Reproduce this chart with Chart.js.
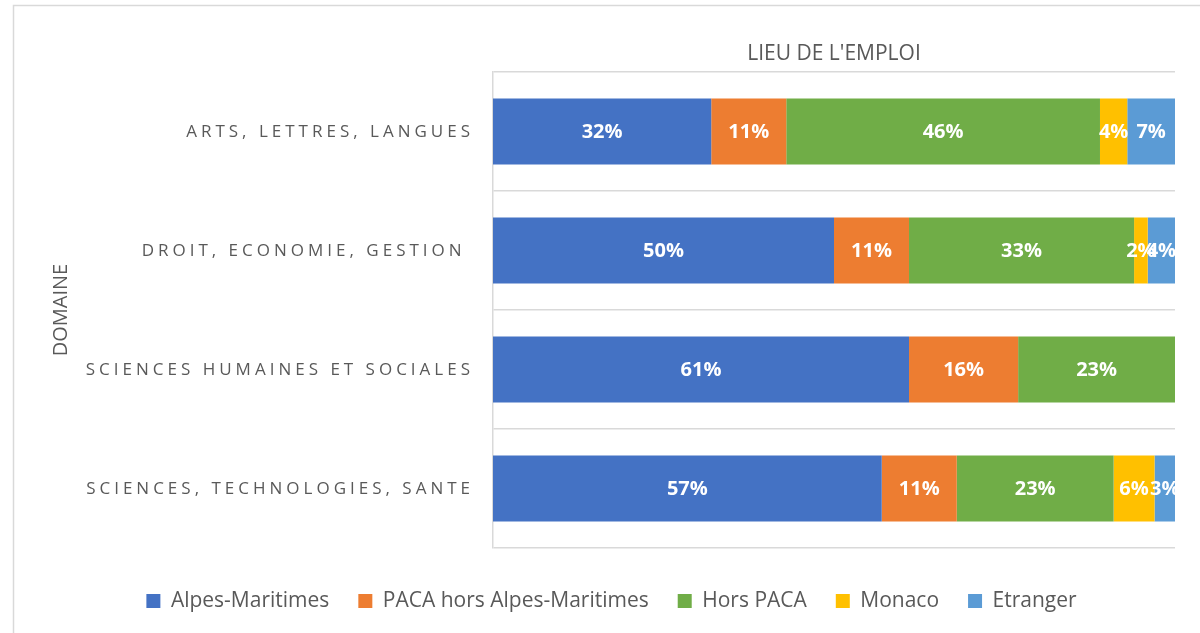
<!DOCTYPE html>
<html>
<head>
<meta charset="utf-8">
<script src="https://cdn.jsdelivr.net/npm/chart.js@4.4.0/dist/chart.umd.min.js"></script>
<style>
  html, body { margin: 0; padding: 0; background: #fff; }
  #wrap { width: 1200px; height: 633px; }
</style>
</head>
<body>
<div id="wrap"><canvas id="chart"></canvas></div>
<script>
const domaines = ['ARTS, LETTRES, LANGUES', 'DROIT, ECONOMIE, GESTION ', 'SCIENCES HUMAINES ET SOCIALES', 'SCIENCES, TECHNOLOGIES, SANTE'];
const alpesMaritimes = [32, 50, 61, 57];
const pacaHorsAM = [11, 11, 16, 11];
const horsPaca = [46, 33, 23, 23];
const monaco = [4, 2, 0, 6];
const etranger = [7, 4, 0, 3];
const seriesNames = ['Alpes-Maritimes', 'PACA hors Alpes-Maritimes', 'Hors PACA', 'Monaco', 'Etranger'];
const seriesColors = ['#4472C4', '#ED7D31', '#70AD47', '#FFC000', '#5B9BD5'];

const textGray = '#595959';
const lineGray = '#D9D9D9';

Chart.defaults.font.family = '"Open Sans", sans-serif';
Chart.defaults.color = textGray;

// thin frame of the original chart object (top and left edges only, rest is cropped)
const frame = {
  id: 'frame',
  beforeDraw(chart) {
    const ctx = chart.ctx;
    ctx.save();
    ctx.strokeStyle = lineGray;
    ctx.lineWidth = 1.5;
    ctx.beginPath();
    ctx.moveTo(13.5, chart.height);
    ctx.lineTo(13.5, 5.5);
    ctx.lineTo(chart.width, 5.5);
    ctx.stroke();
    ctx.restore();
  }
};

// category names with letter spacing, which the tick options can't do
const categoryLabels = {
  id: 'categoryLabels',
  afterDraw(chart) {
    const {ctx, scales: {y}} = chart;
    ctx.save();
    ctx.font = '17px "Open Sans"';
    ctx.fillStyle = textGray;
    ctx.textAlign = 'right';
    ctx.textBaseline = 'middle';
    ctx.letterSpacing = '4px';
    domaines.forEach((d, i) => ctx.fillText(d, y.right - 19, y.getPixelForValue(i) + 1));
    ctx.restore();
  }
};

// value labels centred in each segment, clipped to the plot like the original
const segmentLabels = {
  id: 'segmentLabels',
  afterDatasetsDraw(chart) {
    const {ctx, chartArea: a} = chart;
    ctx.save();
    ctx.beginPath();
    ctx.rect(a.left, a.top, a.right - a.left, a.bottom - a.top);
    ctx.clip();
    ctx.font = 'bold 20px "Open Sans"';
    ctx.fillStyle = '#fff';
    ctx.textAlign = 'center';
    ctx.textBaseline = 'middle';
    chart.data.datasets.forEach((ds, di) => {
      chart.getDatasetMeta(di).data.forEach((bar, i) => {
        const v = ds.data[i];
        if (!v) return;
        const p = bar.getProps(['x', 'base', 'y'], true);
        ctx.fillText(v + '%', (p.x + p.base) / 2, p.y + 1);
      });
    });
    ctx.restore();
  }
};

const seriesData = [alpesMaritimes, pacaHorsAM, horsPaca, monaco, etranger];

new Chart(document.getElementById('chart'), {
  type: 'bar',
  data: {
    labels: domaines,
    datasets: seriesNames.map((name, i) => ({
      label: name,
      data: seriesData[i],
      backgroundColor: seriesColors[i],
      borderWidth: 0,
      barPercentage: 0.555,
      categoryPercentage: 1
    }))
  },
  options: {
    indexAxis: 'y',
    responsive: true,
    maintainAspectRatio: false,
    animation: false,
    layout: { padding: { left: 48, right: 25, top: 0, bottom: 11.5 } },
    scales: {
      x: {
        position: 'top',
        stacked: true,
        min: 0,
        max: 100,
        grid: { display: false },
        border: { display: false },
        ticks: { display: false },
        title: {
          display: true,
          text: "LIEU DE L'EMPLOI",
          color: textGray,
          font: { size: 21 },
          padding: { top: 41, bottom: 0 }
        },
        afterFit(s) { s.height = 72; }
      },
      y: {
        stacked: true,
        grid: { color: lineGray, lineWidth: 1.5, drawTicks: false },
        border: { display: true, color: lineGray, width: 1.5 },
        ticks: { display: false },
        title: {
          display: true,
          text: 'DOMAINE',
          color: textGray,
          font: { size: 20 },
          padding: { top: 1, bottom: 0 }
        },
        afterFit(s) { s.width = 445; }
      },
      gap: {
        type: 'linear',
        position: 'bottom',
        grid: { display: false },
        border: { display: false },
        ticks: { display: false },
        afterFit(s) { s.height = 13.5; }
      }
    },
    plugins: {
      legend: {
        position: 'bottom',
        labels: {
          boxWidth: 14,
          boxHeight: 14,
          padding: 29,
          color: textGray,
          font: { size: 21 }
        }
      },
      tooltip: { enabled: false }
    }
  },
  plugins: [frame, categoryLabels, segmentLabels]
});
</script>
</body>
</html>
